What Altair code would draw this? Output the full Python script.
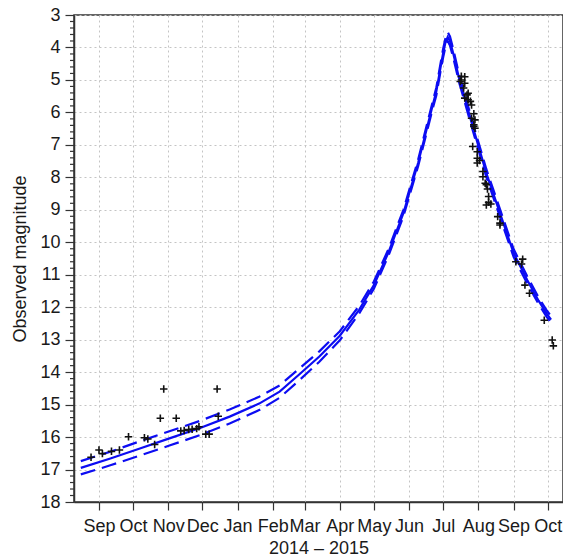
import altair as alt
import pandas as pd

# Model light curve (fit) with its upper/lower envelopes, magnitudes per date
curve_dates = [
    "2014-08-16", "2014-09-11", "2014-10-07", "2014-11-02", "2014-11-29",
    "2014-12-25", "2015-01-20", "2015-02-07", "2015-02-24", "2015-03-14",
    "2015-04-01", "2015-04-18", "2015-05-01", "2015-05-14", "2015-05-27",
    "2015-06-09", "2015-06-22", "2015-06-25", "2015-06-29", "2015-07-01",
    "2015-07-03", "2015-07-05", "2015-07-07", "2015-07-10", "2015-07-15",
    "2015-07-27", "2015-08-08", "2015-08-20", "2015-09-01", "2015-09-13",
    "2015-09-23", "2015-09-30", "2015-10-04",
]
curve_fit = [
    16.95, 16.66, 16.35, 16.04, 15.72,
    15.37, 14.97, 14.60, 14.08, 13.52,
    12.88, 12.08, 11.32, 10.30, 9.10,
    7.55, 5.75, 5.35, 4.55, 4.17,
    3.85, 3.68, 3.80, 4.20, 4.95,
    6.43, 7.87, 9.10, 10.33, 11.16,
    11.80, 12.19, 12.38,
]
curve_upper = [
    16.74, 16.45, 16.13, 15.82, 15.50,
    15.15, 14.76, 14.41, 13.90, 13.36,
    12.74, 11.96, 11.21, 10.20, 9.00,
    7.45, 5.64, 5.23, 4.43, 4.04,
    3.72, 3.53, 3.66, 4.07, 4.83,
    6.31, 7.75, 8.98, 10.21, 11.05,
    11.70, 12.09, 12.28,
]
curve_lower = [
    17.15, 16.87, 16.57, 16.26, 15.94,
    15.58, 15.17, 14.79, 14.26, 13.68,
    13.02, 12.20, 11.43, 10.40, 9.20,
    7.65, 5.86, 5.47, 4.67, 4.30,
    3.98, 3.81, 3.94, 4.33, 5.07,
    6.55, 7.99, 9.22, 10.45, 11.27,
    11.90, 12.29, 12.48,
]

# Observed magnitudes
obs_dates = [
    "2014-08-25", "2014-09-01", "2014-09-04", "2014-09-12", "2014-09-19",
    "2014-09-27", "2014-10-11", "2014-10-14", "2014-10-20", "2014-10-25",
    "2014-10-28", "2014-11-08", "2014-11-12", "2014-11-15", "2014-11-19",
    "2014-11-22", "2014-11-26", "2014-11-28", "2014-12-04", "2014-12-07",
    "2014-12-14", "2014-12-15",
    "2015-07-16", "2015-07-17", "2015-07-17", "2015-07-19", "2015-07-20",
    "2015-07-20", "2015-07-20", "2015-07-22", "2015-07-23", "2015-07-23",
    "2015-07-25", "2015-07-26", "2015-07-26", "2015-07-27", "2015-07-28",
    "2015-07-28", "2015-07-28", "2015-07-29", "2015-07-29", "2015-07-31",
    "2015-07-31", "2015-07-31", "2015-08-02", "2015-08-05", "2015-08-05",
    "2015-08-07", "2015-08-08", "2015-08-08", "2015-08-09", "2015-08-10",
    "2015-08-10", "2015-08-12", "2015-08-18", "2015-08-20", "2015-08-20",
    "2015-09-03", "2015-09-08", "2015-09-09", "2015-09-11", "2015-09-15",
    "2015-09-28", "2015-10-05", "2015-10-06",
]
obs_mags = [
    16.62, 16.40, 16.51, 16.44, 16.40,
    15.99, 16.02, 16.06, 16.23, 15.42,
    14.52, 15.42, 15.81, 15.80, 15.77,
    15.76, 15.74, 15.68, 15.91, 15.91,
    14.52, 15.36,
    5.05, 4.89, 5.00, 5.25, 4.90,
    5.10, 5.56, 5.46, 5.41, 5.61,
    5.66, 5.77, 6.18, 7.05, 6.04,
    6.38, 6.43, 6.23, 6.49, 7.21,
    7.41, 7.56, 7.48, 7.82, 7.98,
    8.18, 8.23, 8.85, 8.36, 8.59,
    8.77, 8.82, 9.21, 9.41, 9.47,
    10.60, 10.67, 10.52, 11.32, 11.57,
    12.40, 13.01, 13.19,
]

month_ticks = [(2014, m) for m in range(9, 13)] + [(2015, m) for m in range(1, 11)]
mag_ticks = list(range(3, 19))
minor_ticks = [round(3 + 0.2 * i, 1) for i in range(76) if i % 5]

FONT = "Liberation Sans"
BLUE = "#0c0cf2"
AXIS = "#333333"

curves = pd.DataFrame({
    "date": [d + "T00:00:00" for d in curve_dates],
    "fit": curve_fit,
    "upper": curve_upper,
    "lower": curve_lower,
})
obs = pd.DataFrame({"date": [d + "T00:00:00" for d in obs_dates], "mag": obs_mags})
minor = pd.DataFrame({"v": minor_ticks})

x_scale = alt.Scale(domain=["2014-08-10T00:00:00", "2015-10-14T12:00:00"])
y_scale = alt.Scale(domain=[3, 18], reverse=True, nice=False, zero=False)

x_axis = alt.Axis(
    values=[alt.DateTime(year=y, month=m, date=1) for y, m in month_ticks],
    format="%b",
    title="2014 \u2013 2015",
    labelOverlap=False,
    labelBound=False,
    labelFlush=False,
    tickSize=8,
    labelPadding=7,
    titlePadding=4,
)
y_axis = alt.Axis(
    values=mag_ticks,
    title="Observed magnitude",
    labelOverlap=False,
    tickSize=9,
    labelPadding=5,
    titlePadding=10,
)


def xy(yfield):
    return dict(
        x=alt.X("date:T", scale=x_scale, axis=x_axis),
        y=alt.Y(yfield, scale=y_scale, axis=y_axis),
    )


base = alt.Chart(curves)

fit_line = base.mark_line(color=BLUE, strokeWidth=2.2).encode(**xy("fit:Q"))
upper_line = base.mark_line(color=BLUE, strokeWidth=2.2, strokeDash=[15, 7]).encode(
    **xy("upper:Q")
)
lower_line = base.mark_line(color=BLUE, strokeWidth=2.2, strokeDash=[15, 7]).encode(
    **xy("lower:Q")
)

points = alt.Chart(obs).mark_point(
    shape="M-1,0L1,0M0,-1L0,1", filled=False, size=56,
    color="#111111", strokeWidth=1.6, opacity=1,
).encode(**xy("mag:Q"))

# minor ticks on the magnitude axis
minor_rules = alt.Chart(minor).mark_rule(color=AXIS, strokeWidth=1.2).encode(
    x=alt.value(-4), x2=alt.value(0),
    y=alt.Y("v:Q", scale=y_scale, axis=y_axis),
)

chart = (
    alt.layer(fit_line, upper_line, lower_line, points, minor_rules)
    .properties(
        width=489,
        height=487,
        autosize=alt.AutoSizeParams(type="none"),
        padding={"left": 74, "top": 15, "right": 0, "bottom": 55},
    )
    .configure_view(stroke=AXIS, strokeWidth=1.5)
    .configure_axis(
        labelFont=FONT,
        titleFont=FONT,
        labelFontSize=18,
        titleFontSize=18,
        titleFontWeight="normal",
        labelColor="#1a1a1a",
        titleColor="#1a1a1a",
        labelOverlap=False,
        domainColor=AXIS,
        tickColor=AXIS,
        domainWidth=1.5,
        tickWidth=1.2,
        gridColor="#c4c4c4",
        gridDash=[2, 3],
        gridWidth=1,
    )
)

chart.save("out.html", embed_options={"renderer": "svg", "actions": False})
